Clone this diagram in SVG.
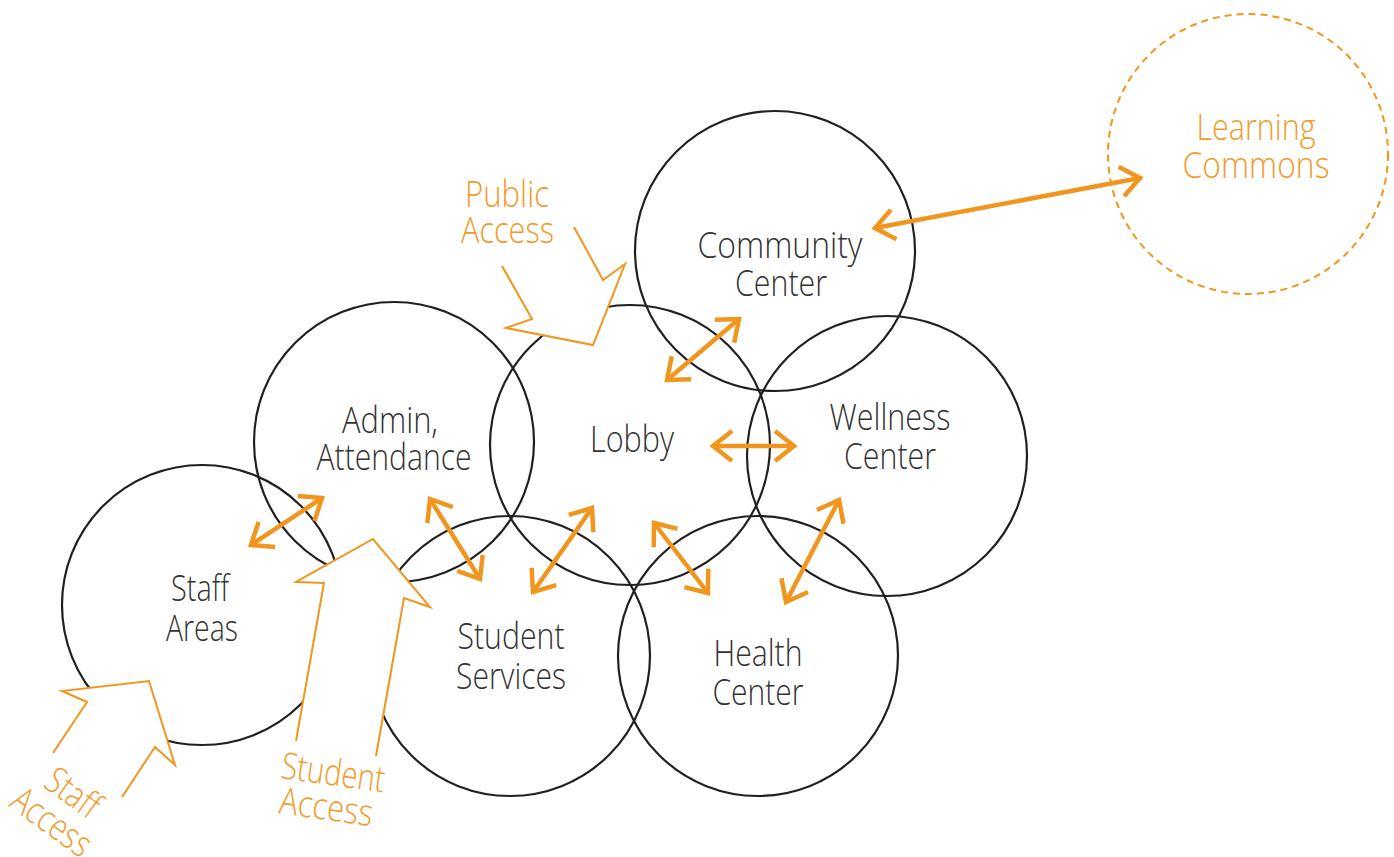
<svg xmlns="http://www.w3.org/2000/svg" width="1394" height="857" viewBox="0 0 1394 857">
<style>
.c{fill:none;stroke:#231f20;stroke-width:2.2}
.t{font-family:"Open Sans","Liberation Sans",sans-serif;font-weight:300;font-size:37px;fill:#333333;text-anchor:middle}
.o{font-family:"Open Sans","Liberation Sans",sans-serif;font-weight:300;font-size:37px;fill:#F29B2A}
.m{text-anchor:middle}
.a{fill:none;stroke:#F0961E;stroke-width:4.5;marker-start:url(#h);marker-end:url(#h)}
.acc{fill:#ffffff;stroke:none}
.accl{fill:none;stroke:#F0961E;stroke-width:2}
</style>
<defs>
<marker id="h" markerUnits="userSpaceOnUse" viewBox="-30 -20 40 40" markerWidth="40" markerHeight="40" refX="0" refY="0" orient="auto-start-reverse" overflow="visible">
<path d="M-19,-15 L0,0 L-19,15" fill="none" stroke="#F0961E" stroke-width="4.5" stroke-linejoin="miter"/>
</marker>
</defs>
<g id="learning-commons">
<circle cx="1248" cy="154" r="140" fill="none" stroke="#F0961E" stroke-width="2" stroke-dasharray="7,5"/>
<text class="o m" x="1256" y="140" textLength="119" lengthAdjust="spacingAndGlyphs">Learning</text>
<text class="o m" x="1256" y="178" textLength="147" lengthAdjust="spacingAndGlyphs">Commons</text>
</g>
<g id="community-center">
<circle class="c" cx="775" cy="251" r="140"/>
<text class="t" x="780" y="258" textLength="165" lengthAdjust="spacingAndGlyphs">Community</text>
<text class="t" x="781" y="296" textLength="92" lengthAdjust="spacingAndGlyphs">Center</text>
</g>
<g id="wellness-center">
<circle class="c" cx="887" cy="456" r="140"/>
<text class="t" x="890" y="430" textLength="121" lengthAdjust="spacingAndGlyphs">Wellness</text>
<text class="t" x="890" y="469" textLength="92" lengthAdjust="spacingAndGlyphs">Center</text>
</g>
<g id="lobby">
<circle class="c" cx="630" cy="445" r="140"/>
<text class="t" x="632" y="452" textLength="84" lengthAdjust="spacingAndGlyphs">Lobby</text>
</g>
<g id="admin-attendance">
<circle class="c" cx="394" cy="442" r="140"/>
<text class="t" x="390" y="433" textLength="96" lengthAdjust="spacingAndGlyphs">Admin,</text>
<text class="t" x="394" y="470" textLength="155" lengthAdjust="spacingAndGlyphs">Attendance</text>
</g>
<g id="staff-areas">
<circle class="c" cx="202" cy="605" r="140"/>
<text class="t" x="200" y="601" textLength="58" lengthAdjust="spacingAndGlyphs">Staff</text>
<text class="t" x="202" y="641" textLength="72" lengthAdjust="spacingAndGlyphs">Areas</text>
</g>
<g id="student-services">
<circle class="c" cx="510" cy="656" r="140"/>
<text class="t" x="511" y="649" textLength="107" lengthAdjust="spacingAndGlyphs">Student</text>
<text class="t" x="511" y="689" textLength="110" lengthAdjust="spacingAndGlyphs">Services</text>
</g>
<g id="health-center">
<circle class="c" cx="758" cy="656" r="140"/>
<text class="t" x="758" y="666" textLength="89" lengthAdjust="spacingAndGlyphs">Health</text>
<text class="t" x="758" y="705" textLength="91" lengthAdjust="spacingAndGlyphs">Center</text>
</g>
<g id="public-access">
<polygon class="acc" points="502,266 532,319 506,328 593,345 625,264 603,280 574,227"/>
<polyline class="accl" points="502,266 532,319 506,328 593,345 625,264 603,280 574,227"/>
<text class="o" x="465" y="207" textLength="84" lengthAdjust="spacingAndGlyphs">Public</text>
<text class="o" x="461" y="243" textLength="93" lengthAdjust="spacingAndGlyphs">Access</text>
</g>
<g id="student-access">
<polygon class="acc" points="296,741 324,583 296,582 373,539 430,607 404,598 376,756"/>
<polyline class="accl" points="296,741 324,583 296,582 373,539 430,607 404,598 376,756"/>
<g transform="translate(280,778) rotate(8)">
<text class="o m" x="52" y="0" textLength="104" lengthAdjust="spacingAndGlyphs">Student</text>
<text class="o m" x="50" y="35" textLength="94" lengthAdjust="spacingAndGlyphs">Access</text>
</g>
</g>
<g id="staff-access">
<polygon class="acc" points="53,753 87,702 62,691 149,681 175,765 155,747 122,797"/>
<polyline class="accl" points="53,753 87,702 62,691 149,681 175,765 155,747 122,797"/>
<g transform="translate(42,786) rotate(36)">
<text class="o m" x="29" y="0" textLength="58" lengthAdjust="spacingAndGlyphs">Staff</text>
<text class="o m" x="29" y="36" textLength="90" lengthAdjust="spacingAndGlyphs">Access</text>
</g>
</g>
<g id="connectors">
<line class="a" x1="875" y1="228" x2="1140" y2="178"/>
<line class="a" x1="667" y1="380" x2="739" y2="319"/>
<line class="a" x1="713" y1="446" x2="794" y2="446"/>
<line class="a" x1="251" y1="545" x2="322" y2="498"/>
<line class="a" x1="430" y1="499" x2="480" y2="579"/>
<line class="a" x1="533" y1="592" x2="592" y2="508"/>
<line class="a" x1="654" y1="523" x2="708" y2="593"/>
<line class="a" x1="786" y1="602" x2="839" y2="500"/>
</g>
</svg>
